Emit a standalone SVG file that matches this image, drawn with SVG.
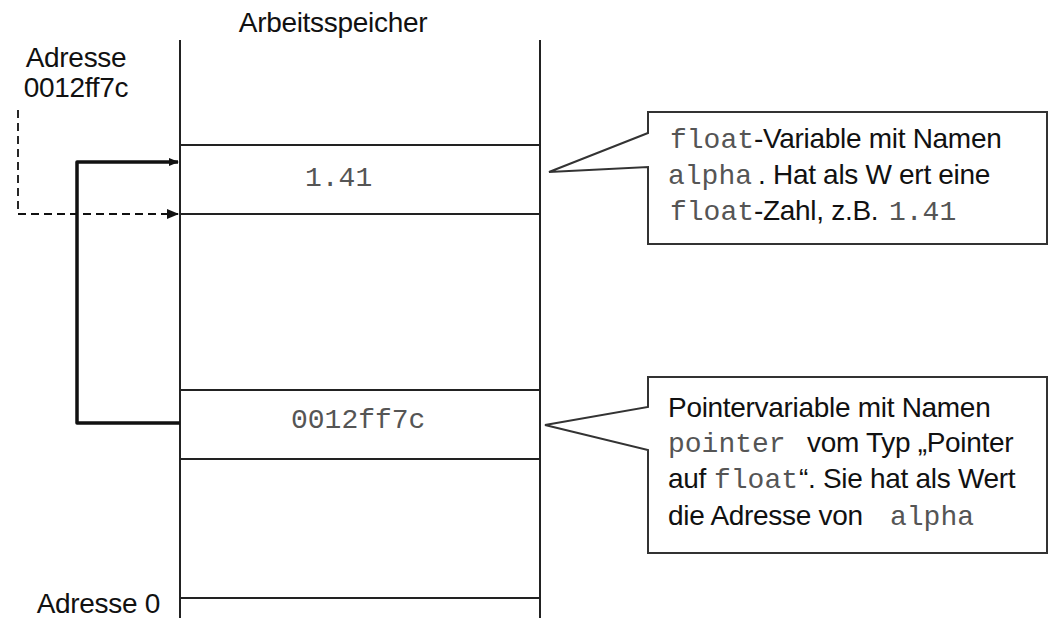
<svg xmlns="http://www.w3.org/2000/svg" width="1050" height="618" viewBox="0 0 1050 618">
<defs>
<style>
.ln{stroke:#222;stroke-width:2;fill:none}
.s{font-family:"Liberation Sans",Arial,sans-serif;font-size:28px;fill:#111;letter-spacing:-0.3px}
.m{font-family:"Liberation Mono","Courier New",monospace;font-size:28px;fill:#555;letter-spacing:0}
.box{fill:#fff;stroke:#333;stroke-width:2}
</style>
<marker id="ah" markerWidth="12" markerHeight="10" refX="11" refY="5" orient="auto" markerUnits="userSpaceOnUse">
<path d="M0,0 L12,5 L0,10 Z" fill="#111"/>
</marker>
<marker id="ah2" markerWidth="10" markerHeight="8" refX="9" refY="4" orient="auto" markerUnits="userSpaceOnUse">
<path d="M0,0 L10,4 L0,8 Z" fill="#111"/>
</marker>
</defs>
<rect width="1050" height="618" fill="#fff"/>
<g id="memory">
<line class="ln" x1="180" y1="40" x2="180" y2="618"/>
<line class="ln" x1="540" y1="40" x2="540" y2="618"/>
<line class="ln" x1="180" y1="598" x2="540" y2="598"/>
<text class="s" x="333" y="32" text-anchor="middle">Arbeitsspeicher</text>
<text class="s" x="160" y="613" text-anchor="end">Adresse 0</text>
</g>
<g id="alpha">
<line class="ln" x1="180" y1="145" x2="540" y2="145"/>
<line class="ln" x1="180" y1="214" x2="540" y2="214"/>
<text class="m" x="305" y="186">1.41</text>
</g>
<g id="pointer">
<line class="ln" x1="180" y1="390" x2="540" y2="390"/>
<line class="ln" x1="180" y1="459" x2="540" y2="459"/>
<text class="m" x="291" y="428">0012ff7c</text>
</g>
<g id="address-label">
<text class="s" x="76" y="67" text-anchor="middle">Adresse</text>
<text class="s" x="76" y="97" text-anchor="middle">0012ff7c</text>
</g>
<g id="callout-alpha">
<path class="box" d="M648,112 L1047,112 L1047,244 L648,244 L648,167 L549,172 L648,133 Z"/>
<text y="148"><tspan class="m" x="670">float</tspan><tspan class="s" x="754">-Variable mit Namen</tspan></text>
<text y="184"><tspan class="m" x="668">alpha</tspan><tspan class="s" x="758">. Hat als W ert eine</tspan></text>
<text y="220"><tspan class="m" x="670">float</tspan><tspan class="s" x="754">-Zahl, z.B.</tspan><tspan class="m" x="889">1.41</tspan></text>
</g>
<g id="callout-pointer">
<path class="box" d="M648,377 L1047,377 L1047,553 L648,553 L648,450 L545,425 L648,407 Z"/>
<text class="s" x="668" y="417">Pointervariable mit Namen</text>
<text y="452"><tspan class="m" x="668">pointer</tspan><tspan class="s" x="807">vom Typ „Pointer</tspan></text>
<text y="488"><tspan class="s" x="668">auf</tspan><tspan class="m" x="714">float</tspan><tspan class="s" x="799">“. Sie hat als Wert</tspan></text>
<text y="525"><tspan class="s" x="668">die Adresse von</tspan><tspan class="m" x="890">alpha</tspan></text>
</g>
<g id="connectors">
<path d="M180,423 L77,423 L77,162 L178,162" fill="none" stroke="#111" stroke-width="3.5" stroke-linejoin="round" marker-end="url(#ah2)"/>
<path d="M18,110 L18,214 L178,214" fill="none" stroke="#111" stroke-width="1.8" stroke-dasharray="8,5" marker-end="url(#ah)"/>
</g>
</svg>
